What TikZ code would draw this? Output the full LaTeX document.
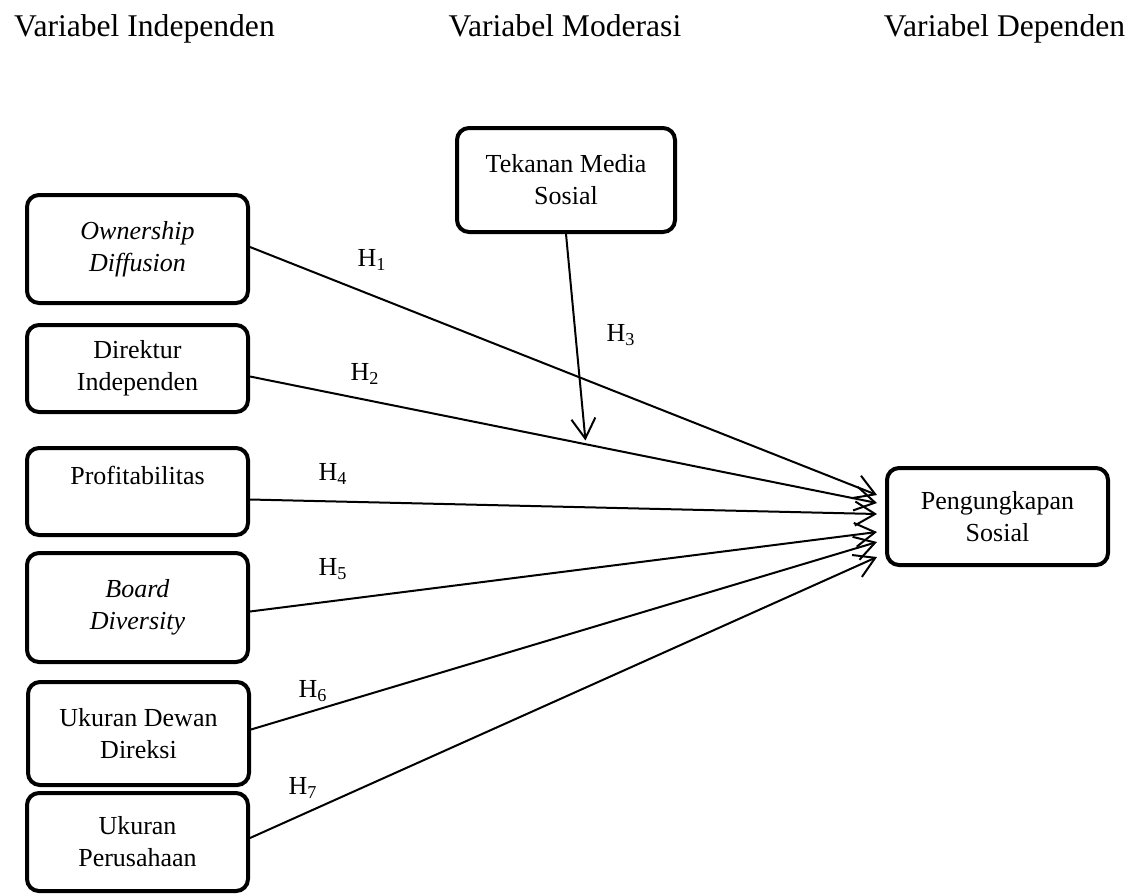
\documentclass[tikz,border=0pt]{standalone}
\usepackage{fontspec}
\setmainfont{Liberation Serif}
\usetikzlibrary{arrows.meta,calc}

\begin{document}
\begin{tikzpicture}
    [x=0.5pt,y=-0.5pt,
     varbox/.style={draw,line width=2pt,rounded corners=6pt,align=center,inner sep=2pt,
                    minimum width=110.5pt,font=\fontsize{13}{16}\selectfont},
     hyp/.style={-{Straight Barb[length=10pt,width=12pt]},line width=1pt},
     hlabel/.style={font=\fontsize{13}{16}\selectfont,inner sep=0pt},
     header/.style={font=\fontsize{15.8}{19}\selectfont,anchor=base,inner sep=0pt}]

    % headings
    \node[header] (hind) at (144.5,36) {Variabel Independen};
    \node[header] (hmod) at (565,36) {Variabel Moderasi};
    \node[header] (hdep) at (1004.5,36) {Variabel Dependen};

    % independent variables
    \node[varbox,minimum height=54pt] (own) at (137.5,249) {\textit{Ownership}\\\textit{Diffusion}};
    \node[varbox,minimum height=43.5pt] (dir) at (137.5,368.5) {Direktur\\Independen};
    \node[varbox,minimum height=43.5pt] (pro) at (137.5,491.5) {Profitabilitas\\~};
    \node[varbox,minimum height=54.5pt] (brd) at (137.5,607.5) {\textit{Board}\\\textit{Diversity}};
    \node[varbox,minimum height=51.5pt] (dew) at (138.5,733.5) {Ukuran Dewan\\Direksi};
    \node[varbox,minimum height=49pt] (per) at (137.5,842) {Ukuran\\Perusahaan};

    % moderating and dependent variables
    \node[varbox,minimum width=109pt,minimum height=52pt] (med) at (566,180) {Tekanan Media\\Sosial};
    \node[varbox,minimum height=48.5pt] (sos) at (997.5,516.5) {Pengungkapan\\Sosial};

    % arrow ends
    \coordinate (t1) at (877,495);
    \coordinate (t2) at (877,503);
    \coordinate (t4) at (877,514);
    \coordinate (t5) at (877,532);
    \coordinate (t6) at (877,542);
    \coordinate (t7) at (877,557);
    \coordinate (t3) at ($(dir.east)!0.535!(t2)$);

    \draw[hyp] ([yshift=1pt]own.east) -- (t1);
    \draw[hyp] ([yshift=-4pt]dir.east) -- (t2);
    \draw[hyp] ([yshift=-4pt]pro.east) -- (t4);
    \draw[hyp] ([yshift=-2pt]brd.east) -- (t5);
    \draw[hyp] ([yshift=2pt]dew.east) -- (t6);
    \draw[hyp] ([yshift=2pt]per.east) -- (t7);
    \draw[hyp] (med.south) -- (t3);

    % hypothesis labels
    \node[hlabel] (h1) at (372,260) {H\textsubscript{1}};
    \node[hlabel] (h2) at (365,374) {H\textsubscript{2}};
    \node[hlabel] (h3) at (621,335) {H\textsubscript{3}};
    \node[hlabel] (h4) at (333,474) {H\textsubscript{4}};
    \node[hlabel] (h5) at (333,569) {H\textsubscript{5}};
    \node[hlabel] (h6) at (313,691) {H\textsubscript{6}};
    \node[hlabel] (h7) at (303,788) {H\textsubscript{7}};

    \pgfresetboundingbox
    \useasboundingbox (0,0) rectangle (1133,894);
\end{tikzpicture}
\end{document}
